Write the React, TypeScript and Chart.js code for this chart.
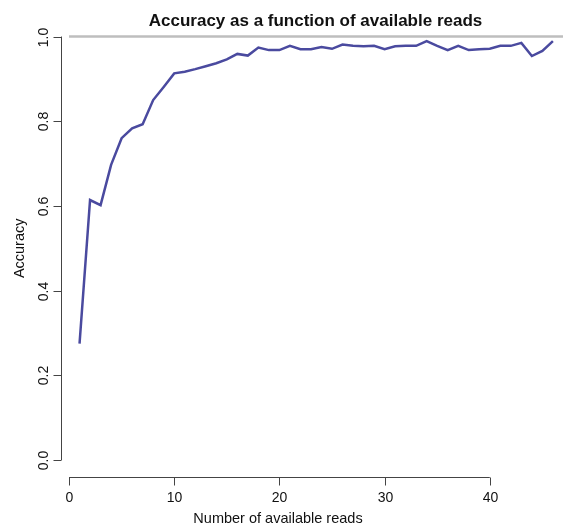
import { useEffect, useRef } from "react";
import { Chart, registerables } from "chart.js";

Chart.register(...registerables);

const reads = [
  1, 2, 3, 4, 5, 6, 7, 8, 9, 10, 11, 12, 13, 14, 15, 16, 17, 18, 19, 20, 21, 22, 23,
  24, 25, 26, 27, 28, 29, 30, 31, 32, 33, 34, 35, 36, 37, 38, 39, 40, 41, 42, 43, 44,
  45, 46,
];
const accuracy = [
  0.275, 0.614, 0.602, 0.697, 0.76, 0.783, 0.793, 0.85, 0.881, 0.913, 0.917, 0.923,
  0.93, 0.937, 0.946, 0.959, 0.955, 0.974, 0.968, 0.968, 0.978, 0.97, 0.97, 0.975,
  0.971, 0.981, 0.978, 0.977, 0.978, 0.97, 0.977, 0.978, 0.978, 0.989, 0.978, 0.968,
  0.978, 0.968, 0.97, 0.971, 0.978, 0.978, 0.985, 0.954, 0.966, 0.989,
];
const xTicks = [0, 10, 20, 30, 40];
const xTickLabels = ["0", "10", "20", "30", "40"];
const yTicks = [0, 0.2, 0.4, 0.6, 0.8, 1.0];
const yTickLabels = ["0.0", "0.2", "0.4", "0.6", "0.8", "1.0"];
const referenceLine = [1.0];
const titleText = "Accuracy as a function of available reads";
const xLabel = "Number of available reads";
const yLabel = "Accuracy";

const FONT = "'Liberation Sans', Arial, Helvetica, sans-serif";

const rAxes = {
  id: "rAxes",
  beforeDatasetsDraw(chart: any) {
    const { ctx, scales, chartArea } = chart;
    const x = scales.x;
    const y = scales.y;
    ctx.save();
    ctx.strokeStyle = "#bebebe";
    ctx.lineWidth = 2.5;
    referenceLine.forEach((v) => {
      const py = y.getPixelForValue(v);
      ctx.beginPath();
      ctx.moveTo(x.getPixelForValue(0), py);
      ctx.lineTo(chartArea.right, py);
      ctx.stroke();
    });
    ctx.restore();
  },
  afterDraw(chart: any) {
    const { ctx, scales, chartArea } = chart;
    const x = scales.x;
    const y = scales.y;
    ctx.save();
    ctx.strokeStyle = "#444";
    ctx.fillStyle = "#111";
    ctx.lineWidth = 1;

    // y axis
    const ax = Math.round(chartArea.left) + 0.5;
    ctx.beginPath();
    ctx.moveTo(ax, y.getPixelForValue(yTicks[0]));
    ctx.lineTo(ax, y.getPixelForValue(yTicks[yTicks.length - 1]));
    ctx.stroke();
    ctx.font = `14px ${FONT}`;
    yTicks.forEach((v, i) => {
      const py = Math.round(y.getPixelForValue(v)) + 0.5;
      ctx.beginPath();
      ctx.moveTo(ax, py);
      ctx.lineTo(ax - 8, py);
      ctx.stroke();
      ctx.save();
      ctx.translate(48, py);
      ctx.rotate(-Math.PI / 2);
      ctx.textAlign = "center";
      ctx.textBaseline = "alphabetic";
      ctx.fillText(yTickLabels[i], 0, 0);
      ctx.restore();
    });

    // x axis
    const ay = Math.round(chartArea.bottom) + 0.5;
    ctx.beginPath();
    ctx.moveTo(x.getPixelForValue(xTicks[0]), ay);
    ctx.lineTo(x.getPixelForValue(xTicks[xTicks.length - 1]), ay);
    ctx.stroke();
    xTicks.forEach((v, i) => {
      const px = Math.round(x.getPixelForValue(v)) + 0.5;
      ctx.beginPath();
      ctx.moveTo(px, ay);
      ctx.lineTo(px, ay + 8);
      ctx.stroke();
      ctx.textAlign = "center";
      ctx.textBaseline = "alphabetic";
      ctx.fillText(xTickLabels[i], px, 502);
    });

    // axis titles
    ctx.font = `14.5px ${FONT}`;
    ctx.textAlign = "center";
    ctx.fillText(xLabel, 278, 523);
    ctx.save();
    ctx.translate(23.5, (chartArea.top + chartArea.bottom) / 2);
    ctx.rotate(-Math.PI / 2);
    ctx.fillText(yLabel, 0, 0);
    ctx.restore();

    // main title
    ctx.font = `bold 17px ${FONT}`;
    ctx.fillText(titleText, 315.5, 26);
    ctx.restore();
  },
};

export default function App() {
  const ref = useRef<HTMLCanvasElement>(null);
  useEffect(() => {
    if (!ref.current) return;
    const chart = new Chart(ref.current, {
      type: "line",
      data: {
        datasets: [
          {
            data: reads.map((r, i) => ({ x: r, y: accuracy[i] })),
            borderColor: "#4a4a9f",
            borderWidth: 2.5,
            pointRadius: 0,
            tension: 0,
            fill: false,
          },
        ],
      },
      options: {
        animation: false,
        responsive: false,
        layout: { padding: { left: 60.6, right: 0, top: 19.6, bottom: 49 } },
        plugins: { legend: { display: false }, tooltip: { enabled: false }, title: { display: false } },
        scales: {
          x: { type: "linear", min: -0.8, max: 46.96, display: false },
          y: { type: "linear", min: -0.04, max: 1.04, display: false },
        },
      },
      plugins: [rAxes],
    });
    return () => chart.destroy();
  }, []);
  return (
    <div style={{ position: "fixed", left: 0, top: 0, width: 563, height: 526, background: "#fff" }}>
      <canvas ref={ref} width={563} height={526} />
    </div>
  );
}
